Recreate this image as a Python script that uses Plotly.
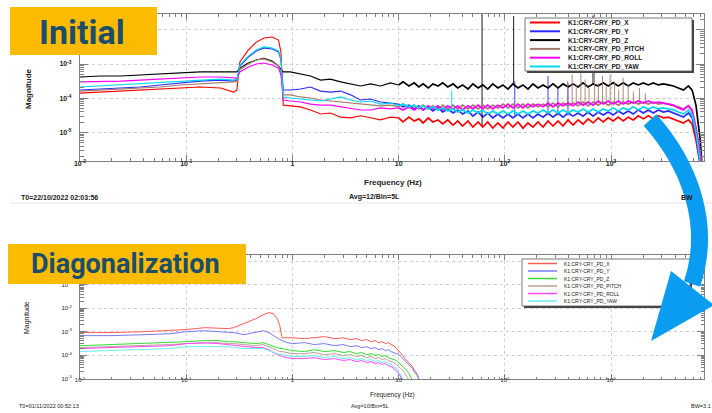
import plotly.graph_objects as go

W, H = 712, 413

# ---------------- data ----------------
channels = ["K1:CRY-CRY_PD_X", "K1:CRY-CRY_PD_Y", "K1:CRY-CRY_PD_Z",
            "K1:CRY-CRY_PD_PITCH", "K1:CRY-CRY_PD_ROLL", "K1:CRY-CRY_PD_YAW"]

# Initial (top) spectrum: frequencies [Hz] and log10(magnitude)
freq_initial_hz = [
    0.01, 0.0155, 0.024, 0.037, 0.057, 0.088, 0.135, 0.21, 0.28, 0.30,
    0.32, 0.385, 0.457, 0.54, 0.645, 0.74, 0.78, 0.82, 0.955, 1.19,
    1.48, 1.84, 2.28, 2.84, 3.53, 4.38, 5.44, 6.76, 8.4,
    10, 11, 12.5, 14, 15.5, 17, 19, 21, 23.5, 26,
    29, 32.5, 36, 40, 45, 50, 56, 62, 69, 77,
    86, 96, 107, 119, 133, 148, 165, 184, 205, 229,
    255, 284, 317, 353, 394, 439, 489, 545, 608, 678,
    756, 843, 940, 1048, 1168, 1302, 1452, 1618, 1805, 2012,
    2243, 2500, 2788, 3108, 3465, 3863, 4307, 4800, 5350, 5800,
    6300, 6900, 7400]

initial_x_log10 = [
    -3.85, -3.82, -3.79, -3.76, -3.73, -3.70, -3.67, -3.70, -3.82, -3.76,
    -2.94, -2.59, -2.36, -2.24, -2.21, -2.30, -2.65, -4.20, -4.22, -4.25,
    -4.34, -4.46, -4.43, -4.55, -4.57, -4.51, -4.57, -4.63, -4.55,
    -4.57, -4.69, -4.55, -4.66, -4.60, -4.72, -4.57, -4.69, -4.63, -4.75,
    -4.63, -4.78, -4.66, -4.81, -4.66, -4.84, -4.69, -4.84, -4.69, -4.87,
    -4.72, -4.87, -4.69, -4.84, -4.69, -4.87, -4.72, -4.84, -4.69, -4.84,
    -4.66, -4.81, -4.66, -4.81, -4.63, -4.78, -4.63, -4.75, -4.60, -4.72,
    -4.57, -4.69, -4.57, -4.66, -4.55, -4.66, -4.55, -4.63, -4.51, -4.60,
    -4.51, -4.60, -4.51, -4.57, -4.55, -4.60, -4.66, -4.72, -4.63, -4.75,
    -5.22, -5.80, -6.50]

initial_y_log10 = [
    -3.76, -3.73, -3.70, -3.67, -3.61, -3.55, -3.50, -3.47, -3.50, -3.47,
    -3.06, -2.80, -2.62, -2.53, -2.56, -2.65, -2.88, -3.76, -3.76, -3.73,
    -3.67, -3.79, -3.82, -3.79, -3.90, -4.05, -4.02, -4.11, -4.14,
    -4.17, -4.25, -4.20, -4.31, -4.22, -4.34, -4.25, -4.37, -4.28, -4.40,
    -4.31, -4.43, -4.34, -4.46, -4.37, -4.52, -4.40, -4.55, -4.43, -4.57,
    -4.46, -4.57, -4.46, -4.57, -4.46, -4.57, -4.46, -4.57, -4.46, -4.55,
    -4.43, -4.55, -4.43, -4.55, -4.43, -4.52, -4.43, -4.52, -4.40, -4.52,
    -4.40, -4.49, -4.40, -4.49, -4.37, -4.46, -4.37, -4.46, -4.34, -4.43,
    -4.34, -4.43, -4.34, -4.40, -4.37, -4.43, -4.49, -4.55, -4.43, -4.57,
    -5.07, -5.74, -6.50]

initial_z_log10 = [
    -3.38, -3.35, -3.35, -3.32, -3.29, -3.26, -3.23, -3.23, -3.23, -3.23,
    -3.12, -2.97, -2.88, -2.83, -2.91, -3.06, -3.15, -3.23, -3.23, -3.29,
    -3.35, -3.47, -3.44, -3.52, -3.58, -3.64, -3.58, -3.64, -3.55,
    -3.61, -3.52, -3.64, -3.55, -3.67, -3.58, -3.70, -3.58, -3.64, -3.55,
    -3.67, -3.58, -3.70, -3.61, -3.73, -3.58, -3.70, -3.61, -3.73, -3.58,
    -3.70, -3.61, -3.73, -3.58, -3.70, -3.61, -3.73, -3.58, -3.70, -3.61,
    -3.70, -3.58, -3.70, -3.58, -3.67, -3.58, -3.67, -3.55, -3.67, -3.58,
    -3.64, -3.55, -3.64, -3.55, -3.64, -3.55, -3.64, -3.55, -3.61, -3.55,
    -3.61, -3.55, -3.61, -3.58, -3.61, -3.64, -3.70, -3.76, -3.64, -3.76,
    -4.20, -5.20, -6.50]

initial_pitch_log10 = [
    -3.79, -3.76, -3.73, -3.70, -3.67, -3.61, -3.58, -3.55, -3.52, -3.50,
    -3.17, -3.00, -2.88, -2.85, -2.94, -3.06, -3.23, -3.90, -3.90, -3.96,
    -3.99, -4.05, -4.08, -4.11, -4.14, -4.17, -4.20, -4.22, -4.20,
    -4.25, -4.17, -4.28, -4.20, -4.31, -4.20, -4.31, -4.22, -4.34, -4.20,
    -4.31, -4.20, -4.31, -4.20, -4.31, -4.20, -4.31, -4.20, -4.31, -4.20,
    -4.28, -4.17, -4.28, -4.17, -4.28, -4.17, -4.28, -4.17, -4.25, -4.17,
    -4.25, -4.14, -4.25, -4.14, -4.22, -4.14, -4.22, -4.11, -4.22, -4.11,
    -4.20, -4.11, -4.20, -4.11, -4.20, -4.11, -4.17, -4.11, -4.17, -4.11,
    -4.17, -4.11, -4.17, -4.14, -4.17, -4.20, -4.25, -4.31, -4.22, -4.34,
    -4.87, -5.62, -6.50]

initial_roll_log10 = [
    -3.52, -3.52, -3.50, -3.47, -3.44, -3.41, -3.38, -3.38, -3.41, -3.41,
    -3.23, -3.09, -3.00, -2.97, -3.03, -3.12, -3.32, -4.05, -4.08, -4.11,
    -4.17, -4.20, -4.20, -4.25, -4.28, -4.34, -4.34, -4.28, -4.31,
    -4.28, -4.34, -4.25, -4.34, -4.25, -4.34, -4.22, -4.31, -4.22, -4.34,
    -4.22, -4.31, -4.22, -4.34, -4.22, -4.31, -4.20, -4.31, -4.20, -4.31,
    -4.20, -4.28, -4.17, -4.28, -4.17, -4.28, -4.17, -4.25, -4.17, -4.25,
    -4.14, -4.25, -4.14, -4.22, -4.14, -4.22, -4.11, -4.20, -4.11, -4.20,
    -4.08, -4.17, -4.08, -4.17, -4.08, -4.17, -4.08, -4.14, -4.08, -4.14,
    -4.08, -4.14, -4.11, -4.14, -4.17, -4.20, -4.28, -4.34, -4.22, -4.37,
    -4.87, -5.59, -6.50]

initial_yaw_log10 = [
    -3.67, -3.64, -3.61, -3.58, -3.55, -3.50, -3.47, -3.44, -3.47, -3.44,
    -3.03, -2.77, -2.59, -2.50, -2.53, -2.62, -2.83, -3.96, -3.99, -4.02,
    -4.05, -4.08, -4.02, -3.96, -4.05, -4.11, -4.08, -4.17, -4.14,
    -4.22, -4.17, -4.25, -4.20, -4.28, -4.22, -4.31, -4.25, -4.34, -4.28,
    -4.37, -4.31, -4.40, -4.34, -4.43, -4.34, -4.43, -4.34, -4.46, -4.37,
    -4.46, -4.37, -4.46, -4.37, -4.46, -4.37, -4.46, -4.37, -4.43, -4.34,
    -4.43, -4.34, -4.43, -4.34, -4.43, -4.34, -4.40, -4.31, -4.40, -4.31,
    -4.40, -4.31, -4.37, -4.28, -4.37, -4.28, -4.34, -4.25, -4.34, -4.25,
    -4.31, -4.25, -4.31, -4.28, -4.31, -4.34, -4.40, -4.46, -4.34, -4.49,
    -4.98, -5.68, -6.50]

# narrow lines (spikes) in the initial spectrum: frequency, log10 base, log10 top
spike_z_hz = [61, 121, 676]
spike_z_base = [-4.80, -3.60, -3.60]
spike_z_top = [-1.55, -1.60, -1.58]
spike_y_hz = [124, 255, 316, 393]
spike_y_base = [-4.50, -4.50, -4.50, -4.50]
spike_y_top = [-3.50, -3.35, -3.70, -3.55]
spike_pitch_hz = [390, 430, 470, 520, 570, 620, 700, 760, 830, 900, 980,
                  1080, 1180, 1300, 1450, 1620, 1850, 2100]
spike_pitch_base = [-4.15] * 18
spike_pitch_top = [-3.50, -3.30, -3.60, -3.20, -3.45, -3.70, -3.25, -3.55, -3.35,
                   -3.65, -3.30, -3.50, -3.75, -3.40, -3.60, -3.80, -3.70, -3.85]
spike_yaw_hz = [31.6]
spike_yaw_base = [-4.35]
spike_yaw_top = [-3.76]

# Diagonalization (bottom) spectrum
freq_diag_hz = [
    0.01, 0.02, 0.04, 0.07, 0.1, 0.15, 0.2, 0.25, 0.28, 0.35,
    0.45, 0.53, 0.6, 0.66, 0.72, 0.76, 0.8, 0.9, 1.0, 1.3,
    1.6, 2.0, 2.5, 3.0, 3.5, 4.0, 4.5, 5.0, 5.5, 6.0,
    6.5, 7.0, 7.5, 8.0, 8.5, 9.0, 9.5, 10, 10.5, 11,
    11.5, 12, 12.5, 13, 13.5, 14, 15, 16]

diag_x_log10 = [
    -3.04, -3.04, -3.00, -2.96, -2.91, -2.83, -2.87, -2.87, -2.83, -2.66,
    -2.45, -2.28, -2.19, -2.23, -2.45, -2.74, -3.26, -3.26, -3.26, -3.30,
    -3.26, -3.21, -3.30, -3.26, -3.34, -3.30, -3.38, -3.34, -3.43, -3.38,
    -3.47, -3.43, -3.51, -3.47, -3.55, -3.60, -3.72, -3.81, -3.94, -4.02,
    -4.15, -4.23, -4.32, -4.40, -4.49, -4.62, -4.83, -5.20]
diag_y_log10 = [
    -3.17, -3.17, -3.13, -3.09, -3.00, -2.96, -3.00, -3.04, -3.04, -3.13,
    -3.04, -2.96, -3.04, -3.17, -3.30, -3.34, -3.38, -3.47, -3.51, -3.47,
    -3.55, -3.51, -3.60, -3.55, -3.64, -3.60, -3.68, -3.64, -3.72, -3.68,
    -3.77, -3.72, -3.81, -3.77, -3.85, -3.89, -3.94, -3.98, -4.06, -4.15,
    -4.23, -4.32, -4.40, -4.49, -4.57, -4.70, -4.87, -5.25]
diag_z_log10 = [
    -3.60, -3.55, -3.51, -3.47, -3.43, -3.38, -3.38, -3.43, -3.43, -3.47,
    -3.51, -3.47, -3.55, -3.64, -3.68, -3.72, -3.72, -3.77, -3.81, -3.85,
    -3.77, -3.85, -3.81, -3.89, -3.85, -3.94, -3.89, -3.98, -3.94, -4.02,
    -3.98, -4.06, -4.02, -4.11, -4.15, -4.19, -4.23, -4.32, -4.40, -4.49,
    -4.57, -4.66, -4.79, -4.91, -5.08, -5.25, -5.60, -5.80]
diag_pitch_log10 = [
    -3.68, -3.64, -3.60, -3.55, -3.51, -3.47, -3.47, -3.51, -3.51, -3.55,
    -3.60, -3.55, -3.64, -3.72, -3.81, -3.85, -3.85, -3.89, -3.94, -3.94,
    -3.89, -3.98, -3.94, -4.02, -3.98, -4.06, -4.02, -4.11, -4.06, -4.15,
    -4.11, -4.19, -4.15, -4.23, -4.28, -4.32, -4.40, -4.49, -4.57, -4.66,
    -4.79, -4.91, -5.08, -5.25, -5.40, -5.60, -5.80, None]
diag_roll_log10 = [
    -3.72, -3.68, -3.64, -3.60, -3.51, -3.47, -3.51, -3.55, -3.60, -3.64,
    -3.68, -3.68, -3.77, -3.89, -3.98, -4.02, -4.06, -4.11, -4.15, -4.15,
    -4.11, -4.19, -4.15, -4.23, -4.19, -4.28, -4.23, -4.32, -4.28, -4.36,
    -4.32, -4.40, -4.36, -4.45, -4.49, -4.57, -4.66, -4.79, -4.91, -5.08,
    -5.25, -5.40, -5.60, -5.80, None, None, None, None]
diag_yaw_log10 = [
    -3.85, -3.81, -3.77, -3.72, -3.64, -3.64, -3.64, -3.64, -3.68, -3.72,
    -3.72, -3.72, -3.81, -3.89, -3.94, -3.98, -3.98, -4.02, -4.06, -4.06,
    -4.02, -4.11, -4.06, -4.15, -4.11, -4.19, -4.15, -4.23, -4.19, -4.28,
    -4.23, -4.32, -4.28, -4.36, -4.40, -4.49, -4.57, -4.70, -4.83, -5.00,
    -5.20, -5.40, -5.80, None, None, None, None, None]

# tick labels (labels hidden under the title boxes are left empty)
x_tick_vals = [0.01, 0.1, 1, 10, 100, 1000]
x_tick_text = ["10<sup>-2</sup>", "10<sup>-1</sup>", "1", "10", "10<sup>2</sup>", "10<sup>3</sup>"]
y_top_tick_vals = [1e-2, 1e-3, 1e-4, 1e-5]
y_top_tick_text = ["", "10<sup>-3</sup>", "10<sup>-4</sup>", "10<sup>-5</sup>"]
y_bot_tick_vals = [1, 1e-1, 1e-2, 1e-3, 1e-4, 1e-5]
y_bot_tick_text = ["", "10<sup>-1</sup>", "10<sup>-2</sup>", "10<sup>-3</sup>", "10<sup>-4</sup>", "10<sup>-5</sup>"]

# ---------------- styles ----------------
top_colors = ["#ff0000", "#2a2aff", "#000000", "#a57a6a", "#ff00ff", "#00d8f0"]
bot_colors = ["#ff5a5a", "#7878ff", "#33dd33", "#bf9f95", "#ff45ff", "#66f0f0"]
SANS = "Liberation Sans, Arial, sans-serif"
TITLE_FONT = "Roboto, Liberation Sans, sans-serif"
DENSE_FROM = 29  # index where the dense (noisy) part of the initial spectrum begins


def pxx(x):
    return x / W


def pxy(y):
    return 1 - y / H


def mag(vals):
    return [None if v is None else 10 ** v for v in vals]


fig = go.Figure()

top_series = [initial_x_log10, initial_y_log10, initial_z_log10,
              initial_pitch_log10, initial_roll_log10, initial_yaw_log10]
bot_series = [diag_x_log10, diag_y_log10, diag_z_log10,
              diag_pitch_log10, diag_roll_log10, diag_yaw_log10]


def spike_trace(fs, base, top, color, xa, ya):
    xs, ys = [], []
    for f, b, t in zip(fs, base, top):
        xs += [f, f, None]
        ys += [10 ** b, 10 ** t, None]
    return go.Scatter(x=xs, y=ys, mode="lines", line=dict(color=color, width=0.9),
                      xaxis=xa, yaxis=ya, showlegend=False, hoverinfo="skip")


for i, (name, vals) in enumerate(zip(channels, top_series)):
    # smooth low-frequency part (thin) and noisy high-frequency part (band-like)
    fig.add_trace(go.Scatter(x=freq_initial_hz[:DENSE_FROM + 1], y=mag(vals[:DENSE_FROM + 1]),
                             mode="lines", name=name,
                             line=dict(color=top_colors[i], width=1.1),
                             xaxis="x", yaxis="y", showlegend=False, hoverinfo="skip"))
    fig.add_trace(go.Scatter(x=freq_initial_hz[DENSE_FROM:], y=mag(vals[DENSE_FROM:]),
                             mode="lines", name=name,
                             line=dict(color=top_colors[i], width=1.7),
                             xaxis="x", yaxis="y", showlegend=False, hoverinfo="skip"))
    if i == 1:
        fig.add_trace(spike_trace(spike_y_hz, spike_y_base, spike_y_top, top_colors[1], "x", "y"))
    if i == 2:
        fig.add_trace(spike_trace(spike_z_hz, spike_z_base, spike_z_top, top_colors[2], "x", "y"))
    if i == 3:
        fig.add_trace(spike_trace(spike_pitch_hz, spike_pitch_base, spike_pitch_top, top_colors[3], "x", "y"))
    if i == 5:
        fig.add_trace(spike_trace(spike_yaw_hz, spike_yaw_base, spike_yaw_top, top_colors[5], "x", "y"))

for i, (name, vals) in enumerate(zip(channels, bot_series)):
    fig.add_trace(go.Scatter(x=freq_diag_hz, y=mag(vals), mode="lines", name=name,
                             line=dict(color=bot_colors[i], width=1.0),
                             xaxis="x2", yaxis="y2", showlegend=False, hoverinfo="skip"))

minor_x = [m * 10 ** e for e in range(-2, 4) for m in range(2, 10)]
minor_y = [m * 10 ** e for e in range(-7, 1) for m in range(2, 10)]

X0, X1 = 80, 704
TOP_T, TOP_B = 14, 161
BOT_T, BOT_B = 255, 379

axis_common = dict(type="log", showline=True, linecolor="#808080", linewidth=1,
                   mirror="allticks", ticks="inside", tickcolor="#808080",
                   showgrid=True, gridcolor="#c4c4c4", griddash="dot", gridwidth=0.8,
                   zeroline=False, tickmode="array", automargin=False)

fig.update_layout(
    width=W, height=H, margin=dict(l=0, r=0, t=0, b=0, pad=0, autoexpand=False),
    paper_bgcolor="white", plot_bgcolor="rgba(0,0,0,0)", showlegend=False,
    xaxis=dict(axis_common, domain=[pxx(X0), pxx(X1)], anchor="y", range=[-2, 3.875],
               tickvals=x_tick_vals, ticktext=x_tick_text, ticklen=6,
               tickfont=dict(size=7, family=SANS, color="#222", weight="bold"),
               ticklabelstandoff=-4,
               minor=dict(tickvals=minor_x, ticks="inside", ticklen=3, tickcolor="#808080", showgrid=False)),
    yaxis=dict(axis_common, domain=[pxy(TOP_B), pxy(TOP_T)], anchor="x", range=[-5.83, -1.54],
               tickvals=y_top_tick_vals, ticktext=y_top_tick_text, ticklen=8,
               tickfont=dict(size=7, family=SANS, color="#222", weight="bold"),
               ticklabelstandoff=6,
               minor=dict(tickvals=minor_y, ticks="inside", ticklen=4, tickcolor="#808080", showgrid=False)),
    xaxis2=dict(axis_common, domain=[pxx(X0), pxx(X1)], anchor="y2", range=[-2, 3.875],
                tickvals=x_tick_vals, ticktext=x_tick_text, ticklen=5,
                tickfont=dict(size=6, family=SANS, color="#222"),
                ticklabelstandoff=-5,
                minor=dict(tickvals=minor_x, ticks="inside", ticklen=2.5, tickcolor="#808080", showgrid=False)),
    yaxis2=dict(axis_common, domain=[pxy(BOT_B), pxy(BOT_T)], anchor="x2", range=[-5.02, 0.27],
                tickvals=y_bot_tick_vals, ticktext=y_bot_tick_text, ticklen=7,
                tickfont=dict(size=6, family=SANS, color="#222"),
                ticklabelstandoff=6,
                minor=dict(tickvals=minor_y, ticks="inside", ticklen=3.5, tickcolor="#808080", showgrid=False)),
)

shapes = []
annotations = []


def rect(x0, y0, x1, y1, fill, line_color=None, lw=0):
    shapes.append(dict(type="rect", xref="paper", yref="paper", layer="above",
                       x0=pxx(x0), x1=pxx(x1), y0=pxy(y1), y1=pxy(y0),
                       fillcolor=fill, line=dict(color=line_color or fill, width=lw)))


def seg(x0, y0, x1, y1, color, w):
    shapes.append(dict(type="line", xref="paper", yref="paper", layer="above",
                       x0=pxx(x0), x1=pxx(x1), y0=pxy(y0), y1=pxy(y1),
                       line=dict(color=color, width=w)))


def text(x, y, s, size, xanchor="left", bold=False, color="#222", angle=0, family=SANS):
    annotations.append(dict(x=pxx(x), y=pxy(y), xref="paper", yref="paper", text=s,
                            showarrow=False, xanchor=xanchor, yanchor="middle",
                            textangle=angle, borderpad=0,
                            font=dict(size=size, color=color, family=family,
                                      weight="bold" if bold else "normal")))


# separator line under top footer
seg(10, 203, 712, 203, "#e4e4e4", 1)

# top legend (manual)
rect(527, 20, 694, 73, "#444444")
rect(525, 18, 692, 71, "white", "#555555", 0.8)
for i, name in enumerate(channels):
    yy = 22.5 + i * 8.8
    seg(530, yy, 560, yy, top_colors[i], 2)
    text(567, yy, name, 6.6, bold=True, color="#222")

# bottom legend (manual)
rect(524, 261, 692, 308, "#444444")
rect(522, 259, 690, 306, "white", "#555555", 0.8)
for i, name in enumerate(channels):
    yy = 263.5 + i * 7.5
    seg(528, yy, 557, yy, bot_colors[i], 1.5)
    text(563, yy, name, 5, color="#222")

# title boxes
rect(10, 7, 157, 55, "#fbbb00")
rect(8, 244, 246, 284, "#fbbb00")
text(82, 32, "Initial", 34, xanchor="center", bold=True, color="#1b4d6c", family=TITLE_FONT)
text(125, 264, "Diagonalization", 27, xanchor="center", bold=True, color="#1b4d6c", family=TITLE_FONT)

# axis titles and footers (top)
text(393, 183, "Frequency (Hz)", 8, xanchor="center", bold=True)
text(28, 89, "Magnitude", 8, xanchor="center", bold=True, angle=-90)
text(20, 197, "T0=22/10/2022 02:03:56", 7, bold=True)
text(348, 197, "Avg=12/Bin=5L", 7, bold=True)
text(680, 197, "BW", 7, bold=True)

# axis titles and footers (bottom)
text(392, 395, "Frequency (Hz)", 6.5, xanchor="center")
text(27, 318, "Magnitude", 7, xanchor="center", angle=-90)
text(18, 406, "T0=01/11/2022 00:52:13", 5.5)
text(350, 406, "Avg=10/Bin=5L", 5.5)
text(690, 406, "BW=3.1", 5.5)

# big blue arrow
ARROW = "#0a9cf0"


def pt(x, y):
    return f"{pxx(x):.5f},{pxy(y):.5f}"


shapes.append(dict(type="path", xref="paper", yref="paper", layer="above",
                   path=f"M {pt(650,120)} C {pt(690,165)} {pt(712,225)} {pt(692,284)}",
                   line=dict(color=ARROW, width=17), fillcolor="rgba(0,0,0,0)"))
shapes.append(dict(type="path", xref="paper", yref="paper", layer="above",
                   path=f"M {pt(671,271)} L {pt(714,305)} L {pt(651,341)} Z",
                   line=dict(color=ARROW, width=0), fillcolor=ARROW))

fig.update_layout(shapes=shapes, annotations=annotations)

fig.write_html("out.html",
               config={"displayModeBar": False, "staticPlot": True},
               post_script="document.body.style.margin='0px';document.body.style.overflow='hidden';")
